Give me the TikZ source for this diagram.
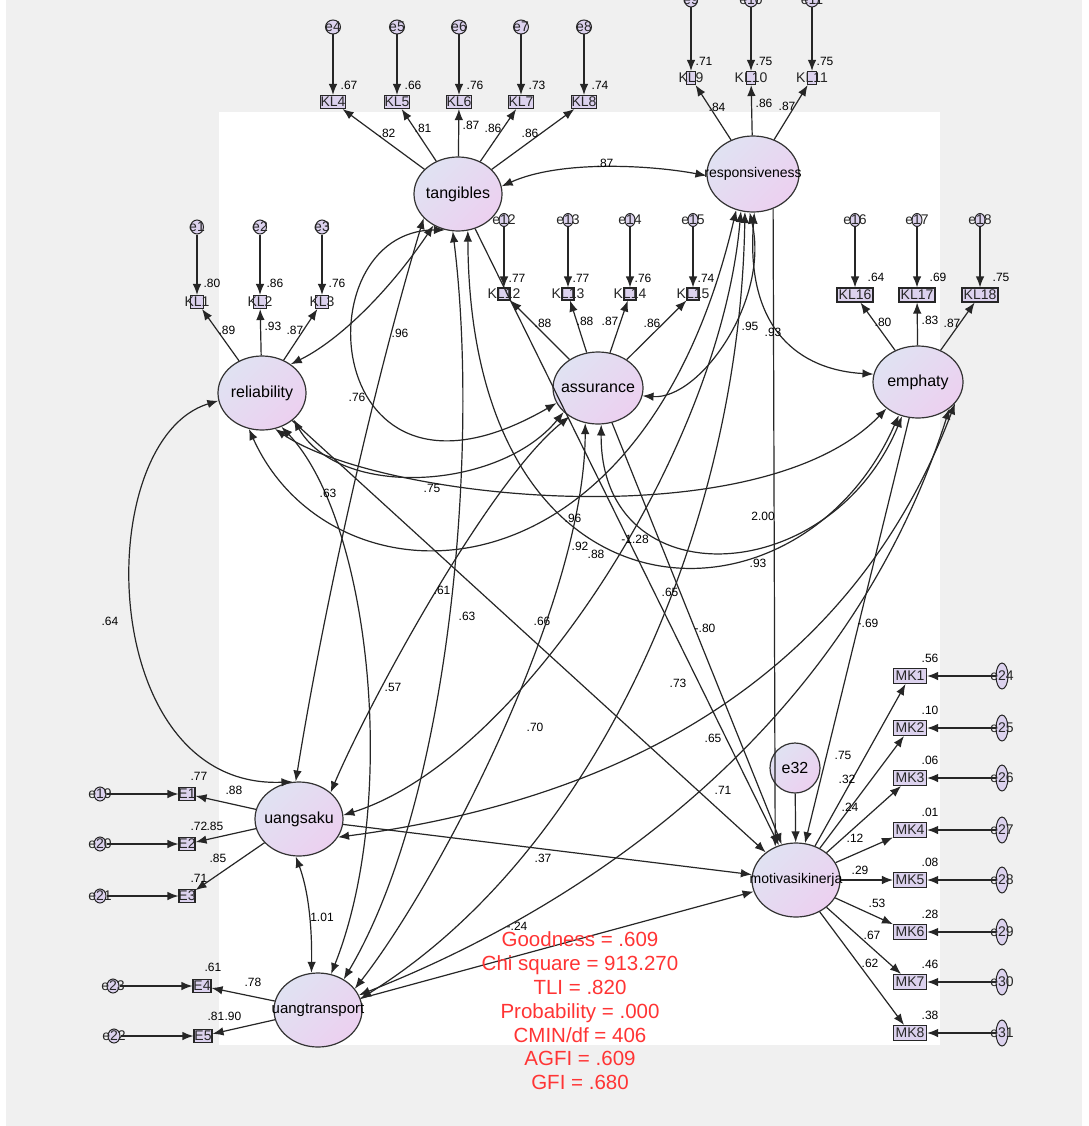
\documentclass[tikz,border=0pt]{standalone}
\usepackage{fontspec}
\setmainfont{Liberation Sans}
\usetikzlibrary{shapes.geometric, arrows.meta}

\definecolor{latA}{RGB}{224,226,242}
\definecolor{latB}{RGB}{236,208,240}
\definecolor{indfill}{RGB}{220,210,238}
\definecolor{panelgray}{RGB}{240,240,240}
\definecolor{fitred}{RGB}{255,52,52}

\tikzset{
  latent/.style={ellipse, draw=black!80, line width=1.2pt, top color=latA, bottom color=latB, shading angle=45, inner sep=0pt, minimum width=88pt, minimum height=74pt},
  lattxt/.style={font=\fontsize{16}{18}\selectfont, inner sep=0pt},
  ind/.style={rectangle, draw=black!85, line width=1.1pt, fill=indfill, inner sep=0pt, minimum height=13pt},
  err/.style={ellipse, draw=black!85, line width=1pt, fill=indfill, inner sep=0pt, minimum width=13pt, minimum height=14pt},
  itxt/.style={font=\fontsize{14}{14}\selectfont, inner sep=0pt, text=black!85},
  reg/.style={draw=black!85, line width=1.2pt, -{Latex[length=11pt,width=8.5pt]}},
  cov/.style={draw=black!85, line width=1.2pt, {Latex[length=11pt,width=8.5pt]}-{Latex[length=11pt,width=8.5pt]}},
  lbl/.style={font=\fontsize{12}{12}\selectfont, inner sep=0pt}
}

\begin{document}
\begin{tikzpicture}[x=1pt, y=-1pt]
    \useasboundingbox (0,0) rectangle (1088,1126);

    % Latar
    \fill[white] (0,0) rectangle (1088,1126);
    \fill[panelgray] (6,0) rectangle (1082,1126);
    \fill[white] (219,112) rectangle (940,1045);

    % Variabel laten
    \node[latent, label={[lattxt]center:tangibles}] (tang) at (458,194) {};
    \node[latent, minimum width=92pt, minimum height=76pt, label={[lattxt, font=\fontsize{14}{16}\selectfont]center:responsiveness}] (resp) at (753,174) {};
    \node[latent, label={[lattxt]center:reliability}] (rel) at (262,393) {};
    \node[latent, minimum width=90pt, minimum height=72pt, label={[lattxt]center:assurance}] (assur) at (598,388) {};
    \node[latent, minimum width=90pt, minimum height=72pt, label={[lattxt]center:emphaty}] (emph) at (918,382) {};
    \node[latent, label={[lattxt]center:uangsaku}] (usaku) at (299,819) {};
    \node[latent, label={[lattxt, font=\fontsize{15}{17}\selectfont]center:uangtransport}] (utrans) at (318,1010) {};
    \node[latent, label={[lattxt, font=\fontsize{14}{16}\selectfont]center:motivasikinerja}] (motiv) at (796,880) {};
    \node[latent, minimum width=50pt, minimum height=50pt, label={[lattxt]center:e32}] (e32) at (795,768) {};

    % Indikator tangibles
    \foreach \n/\x/\ld/\lx/\ly/\rr in {4/333/.82/387/133/.67, 5/397/.81/423/128/.66, 6/459/.87/471/125/.76, 7/521/.86/493/128/.73, 8/584/.86/530/133/.74}{
        \node[ind, minimum width=25pt, label={[itxt]center:KL\n}] (kl\n) at (\x,102) {};
        \node[err, minimum width=15pt, label={[itxt]center:e\n}] (e\n) at (\x,27) {};
        \draw[reg] (e\n) -- (kl\n);
        \draw[reg] (tang) -- (kl\n);
        \node[lbl] at (\lx,\ly) {\ld};
        \node[lbl] at (\x+16,85) {\rr};
    }

    % Indikator responsiveness
    \foreach \n/\x/\ld/\lx/\ly/\rr in {9/691/.84/717/107/.71, 10/751/.86/764/103/.75, 11/812/.87/787/106/.75}{
        \node[ind, minimum width=9pt, label={[itxt]center:KL\n}] (kl\n) at (\x,78) {};
        \node[err, label={[itxt]center:e\n}] (e\n) at (\x,0) {};
        \draw[reg] (e\n) -- (kl\n);
        \draw[reg] (resp) -- (kl\n);
        \node[lbl] at (\lx,\ly) {\ld};
        \node[lbl] at (\x+13,61) {\rr};
    }

    % Indikator reliability
    \foreach \n/\x/\ld/\lx/\ly/\rr in {1/197/.89/227/330/.80, 2/260/.93/273/326/.86, 3/322/.87/295/330/.76}{
        \node[ind, minimum width=13pt, label={[itxt]center:KL\n}] (kl\n) at (\x,302) {};
        \node[err, label={[itxt]center:e\n}] (e\n) at (\x,227) {};
        \draw[reg] (e\n) -- (kl\n);
        \draw[reg] (rel) -- (kl\n);
        \node[lbl] at (\lx,\ly) {\ld};
        \node[lbl] at (\x+15,283) {\rr};
    }

    % Indikator assurance
    \foreach \n/\x/\ld/\lx/\ly/\rr in {12/504/.88/543/323/.77, 13/568/.88/585/321/.77, 14/630/.87/610/321/.76, 15/693/.86/652/323/.74}{
        \node[ind, minimum width=12pt, minimum height=12pt, label={[itxt]center:KL\n}] (kl\n) at (\x,294) {};
        \node[err, minimum width=10pt, minimum height=13pt, label={[itxt]center:e\n}] (e\n) at (\x,220) {};
        \draw[reg] (e\n) -- (kl\n);
        \draw[reg] (assur) -- (kl\n);
        \node[lbl] at (\lx,\ly) {\ld};
        \node[lbl] at (\x+13,278) {\rr};
    }

    % Indikator emphaty
    \foreach \n/\x/\ld/\lx/\ly/\rr in {16/855/.80/883/322/.64, 17/917/.83/930/320/.69, 18/980/.87/952/323/.75}{
        \node[ind, minimum width=36pt, minimum height=14pt, label={[itxt]center:KL\n}] (kl\n) at (\x,295) {};
        \node[err, minimum width=10pt, minimum height=13pt, label={[itxt]center:e\n}] (e\n) at (\x,220) {};
        \draw[reg] (e\n) -- (kl\n);
        \draw[reg] (emph) -- (kl\n);
        \node[lbl] at (\lx,\ly) {\ld};
        \node[lbl] at (\x+21,277) {\rr};
    }

    % Indikator uangsaku
    \foreach \n/\y/\ld/\lx/\ly/\rr/\k in {1/794/.88/234/790/.77/19, 2/844/.85/215/826/.72/20, 3/896/.85/218/858/.71/21}{
        \node[ind, minimum width=16pt, label={[itxt]center:E\n}] (ee\n) at (187,\y) {};
        \node[err, minimum width=12pt, label={[itxt]center:e\k}] (e\k) at (100,\y) {};
        \draw[reg] (e\k) -- (ee\n);
        \draw[reg] (usaku) -- (ee\n);
        \node[lbl] at (\lx,\ly) {\ld};
        \node[lbl] at (199,\y-18) {\rr};
    }

    % Indikator uangtransport
    \node[ind, minimum width=18pt, label={[itxt]center:E4}] (ee4) at (202,986) {};
    \node[ind, minimum width=18pt, label={[itxt]center:E5}] (ee5) at (203,1036) {};
    \node[err, minimum width=12pt, label={[itxt]center:e23}] (e23) at (113,986) {};
    \node[err, minimum width=12pt, label={[itxt]center:e22}] (e22) at (114,1036) {};
    \draw[reg] (e23) -- (ee4);
    \draw[reg] (e22) -- (ee5);
    \draw[reg] (utrans) -- (ee4);
    \draw[reg] (utrans) -- (ee5);
    \node[lbl] at (253,982) {.78};
    \node[lbl] at (233,1016) {.90};
    \node[lbl] at (213,967) {.61};
    \node[lbl] at (216,1016) {.81};

    % Indikator motivasikinerja
    \foreach \n/\y/\ld/\lx/\ly/\rr/\k in {1/676/.75/843/755/.56/24, 2/728/.32/847/779/.10/25, 3/778/.24/850/807/.06/26, 4/830/.12/855/838/.01/27, 5/880/.29/860/870/.08/28, 6/932/.53/877/903/.28/29, 7/982/.67/872/935/.46/30, 8/1033/.62/870/963/.38/31}{
        \node[ind, minimum width=33pt, minimum height=15pt, label={[itxt]center:MK\n}] (mk\n) at (910,\y) {};
        \node[err, minimum width=12pt, minimum height=26pt, label={[itxt]center:e\k}] (e\k) at (1002,\y) {};
        \draw[reg] (e\k) -- (mk\n);
        \draw[reg] (motiv) -- (mk\n);
        \node[lbl] at (\lx,\ly) {\ld};
        \node[lbl] at (930,\y-18) {\rr};
    }

    % Jalur ke motivasikinerja
    \draw[reg] (rel) -- (motiv);
    \draw[reg] (tang) -- (motiv);
    \draw[reg] (assur) -- (motiv);
    \draw[reg] (resp.300) -- (motiv.122);
    \draw[reg] (emph) -- (motiv);
    \draw[reg] (usaku) -- (motiv);
    \draw[reg] (utrans) -- (motiv);
    \draw[reg] (e32) -- (motiv);
    \node[lbl] at (542,621) {.66};
    \node[lbl] at (678,683) {.73};
    \node[lbl] at (705,628) {-.80};
    \node[lbl] at (763,516) {2.00};
    \node[lbl] at (868,623) {-.69};
    \node[lbl] at (543,858) {.37};
    \node[lbl] at (517,926) {-.24};

    % Kovarians antar variabel eksogen
    \draw[cov] (tang.10) .. controls (560,160) and (650,165) .. (resp.182);
    \draw[cov] (tang.232) .. controls (390,290) and (340,340) .. (rel.45);
    \draw[cov] (tang.250) .. controls (300,230) and (320,540) .. (assur.200);
    \draw[cov] (tang.285) .. controls (470,640) and (800,640) .. (emph.240);
    \draw[cov] (tang.215) .. controls (375,380) and (325,600) .. (usaku.95);
    \draw[cov] (tang.262) .. controls (480,450) and (450,800) .. (utrans.50);
    \draw[cov] (resp.245) .. controls (640,620) and (330,610) .. (rel.250);
    \draw[cov] (resp.265) .. controls (770,300) and (700,400) .. (assur.350);
    \draw[cov] (resp.272) .. controls (745,330) and (800,370) .. (emph.170);
    \draw[cov] (resp.252) .. controls (720,450) and (520,760) .. (usaku.5);
    \draw[cov] (resp.258) .. controls (740,520) and (600,850) .. (utrans.15);
    \draw[cov] (rel.320) .. controls (340,500) and (500,490) .. (assur.215);
    \draw[cov] (rel.290) .. controls (380,500) and (760,540) .. (emph.220);
    \draw[cov] (rel.190) .. controls (90,440) and (95,790) .. (usaku.100);
    \draw[cov] (rel.300) .. controls (370,520) and (400,800) .. (utrans.70);
    \draw[cov] (assur.275) .. controls (600,600) and (830,590) .. (emph.245);
    \draw[cov] (assur.225) .. controls (490,480) and (370,700) .. (usaku.40);
    \draw[cov] (assur.250) .. controls (585,600) and (440,880) .. (utrans.30);
    \draw[cov] (emph.330) .. controls (850,680) and (620,800) .. (usaku.335);
    \draw[cov] (emph.320) .. controls (850,720) and (600,900) .. (utrans.20);
    \draw[cov] (usaku.265) .. controls (310,895) and (312,935) .. (utrans.100);

    % Label kovarians
    \node[lbl] at (605,163) {.87};
    \node[lbl] at (400,333) {.96};
    \node[lbl] at (758,563) {.93};
    \node[lbl] at (580,546) {.92};
    \node[lbl] at (357,397) {.76};
    \node[lbl] at (467,616) {.63};
    \node[lbl] at (573,518) {.96};
    \node[lbl] at (750,326) {.95};
    \node[lbl] at (773,332) {.93};
    \node[lbl] at (535,727) {.70};
    \node[lbl] at (670,592) {.65};
    \node[lbl] at (328,493) {.63};
    \node[lbl] at (432,488) {.75};
    \node[lbl] at (110,621) {.64};
    \node[lbl] at (393,687) {.57};
    \node[lbl] at (635,539) {-1.28};
    \node[lbl] at (442,590) {.61};
    \node[lbl] at (596,554) {.88};
    \node[lbl] at (713,738) {.65};
    \node[lbl] at (723,790) {.71};
    \node[lbl] at (322,917) {1.01};

    % Ukuran kecocokan model
    \node[font=\fontsize{20.5}{23.8}\selectfont, text=fitred, align=center, inner sep=0pt] (fit) at (580,1011) {Goodness = .609\\Chi square = 913.270\\TLI = .820\\Probability = .000\\CMIN/df = 406\\AGFI = .609\\GFI = .680};
\end{tikzpicture}
\end{document}
